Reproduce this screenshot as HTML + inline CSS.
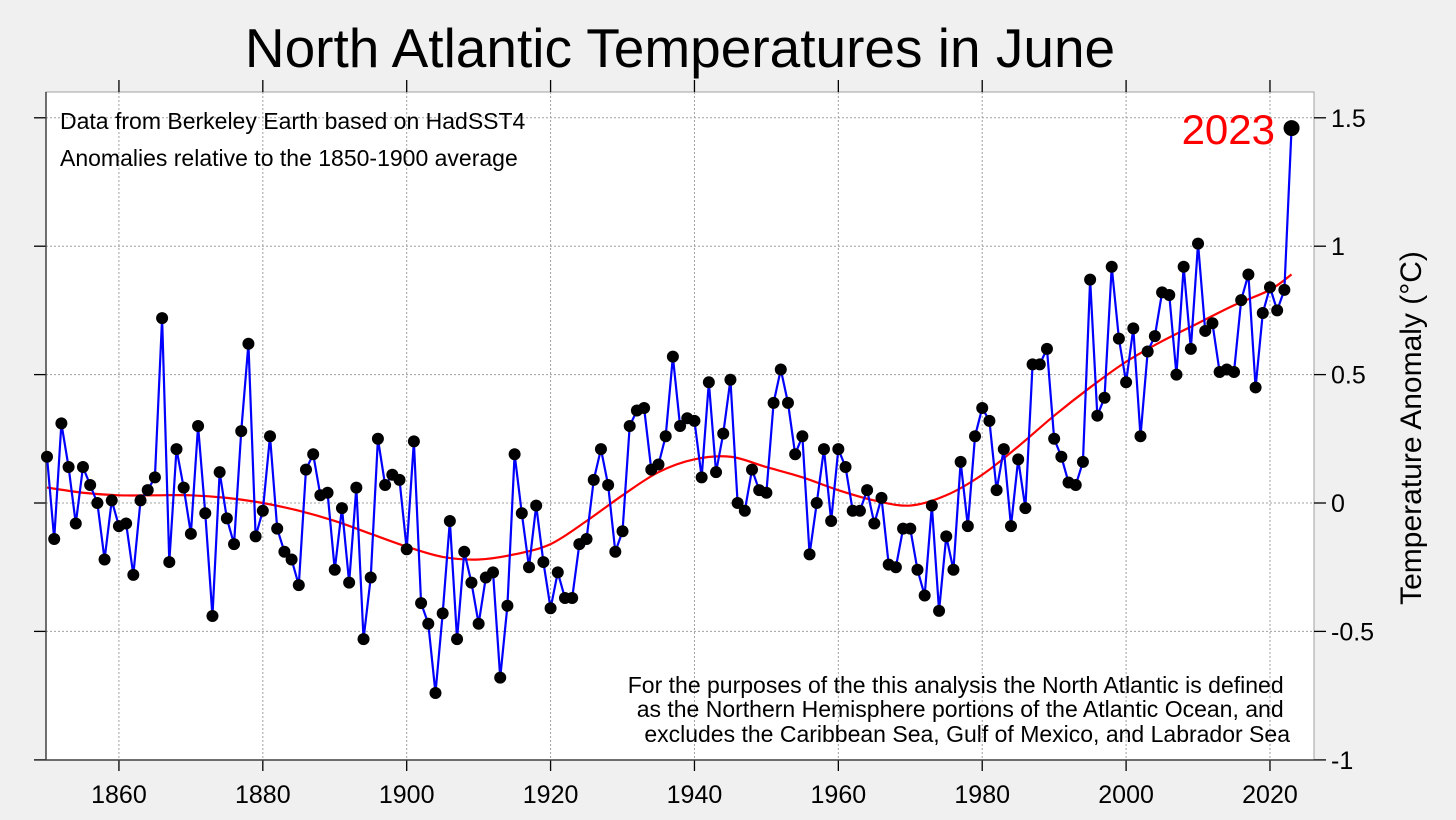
<!DOCTYPE html>
<html><head><meta charset="utf-8"><style>
html,body{margin:0;padding:0;background:#f0f0f0;}
svg{display:block;font-family:"Liberation Sans",Arial,sans-serif;}
</style></head><body>
<svg id="chart" width="1456" height="820" viewBox="0 0 1456 820" xmlns="http://www.w3.org/2000/svg">
<rect x="0" y="0" width="1456" height="820" fill="#f0f0f0"/>
<rect x="46" y="92" width="1268" height="668" fill="#ffffff" stroke="#a0a0a0" stroke-width="1"/>
<g id="grid"></g>
<g id="axes"></g>
<g id="series"></g>
<text x="680" y="67" font-size="55" text-anchor="middle" fill="#000">North Atlantic Temperatures in June</text>
<text x="60" y="129" font-size="23" fill="#000">Data from Berkeley Earth based on HadSST4</text>
<text x="60" y="166" font-size="23" fill="#000">Anomalies relative to the 1850-1900 average</text>
<text font-size="23" fill="#000" text-anchor="end">
<tspan x="1290" y="693">For the purposes of the this analysis the North Atlantic is defined</tspan>
<tspan x="1290" y="717">as the Northern Hemisphere portions of the Atlantic Ocean, and</tspan>
<tspan x="1290" y="742">excludes the Caribbean Sea, Gulf of Mexico, and Labrador Sea</tspan>
</text>
<text x="1275" y="144" font-size="42" fill="#ff0000" text-anchor="end">2023</text>
<text transform="translate(1421,428) rotate(-90)" font-size="30" text-anchor="middle" fill="#000">Temperature Anomaly (°C)</text>
</svg>
<script>
const years = [];
for (let yr = 1850; yr <= 2023; yr++) years.push(yr);
const anomalies = [0.18,-0.14,0.31,0.14,-0.08,0.14,0.07,0.00,-0.22,0.01,
-0.09,-0.08,-0.28,0.01,0.05,0.10,0.72,-0.23,0.21,0.06,
-0.12,0.30,-0.04,-0.44,0.12,-0.06,-0.16,0.28,0.62,-0.13,
-0.03,0.26,-0.10,-0.19,-0.22,-0.32,0.13,0.19,0.03,0.04,
-0.26,-0.02,-0.31,0.06,-0.53,-0.29,0.25,0.07,0.11,0.09,
-0.18,0.24,-0.39,-0.47,-0.74,-0.43,-0.07,-0.53,-0.19,-0.31,
-0.47,-0.29,-0.27,-0.68,-0.40,0.19,-0.04,-0.25,-0.01,-0.23,
-0.41,-0.27,-0.37,-0.37,-0.16,-0.14,0.09,0.21,0.07,-0.19,
-0.11,0.30,0.36,0.37,0.13,0.15,0.26,0.57,0.30,0.33,
0.32,0.10,0.47,0.12,0.27,0.48,0.00,-0.03,0.13,0.05,
0.04,0.39,0.52,0.39,0.19,0.26,-0.20,0.00,0.21,-0.07,
0.21,0.14,-0.03,-0.03,0.05,-0.08,0.02,-0.24,-0.25,-0.10,
-0.10,-0.26,-0.36,-0.01,-0.42,-0.13,-0.26,0.16,-0.09,0.26,
0.37,0.32,0.05,0.21,-0.09,0.17,-0.02,0.54,0.54,0.60,
0.25,0.18,0.08,0.07,0.16,0.87,0.34,0.41,0.92,0.64,
0.47,0.68,0.26,0.59,0.65,0.82,0.81,0.50,0.92,0.60,
1.01,0.67,0.70,0.51,0.52,0.51,0.79,0.89,0.45,0.74,
0.84,0.75,0.83,1.46];
const smoothYears = [1850,1855,1860,1865,1870,1875,1880,1885,1890,1895,1900,1905,1910,1915,1920,1925,1930,1935,1940,1945,1950,1955,1960,1965,1970,1975,1980,1985,1990,1995,2000,2005,2010,2015,2020,2023];
const smoothValues = [0.06,0.04,0.03,0.03,0.03,0.02,0.00,-0.03,-0.07,-0.12,-0.17,-0.21,-0.22,-0.20,-0.16,-0.07,0.03,0.12,0.17,0.18,0.14,0.10,0.05,0.01,-0.01,0.03,0.11,0.22,0.34,0.45,0.55,0.63,0.70,0.77,0.83,0.89];
const xTicks = [1860,1880,1900,1920,1940,1960,1980,2000,2020];
const yTicks = [-1,-0.5,0,0.5,1,1.5];
const yTickLabels = ["-1","-0.5","0","0.5","1","1.5"];

const NS = "http://www.w3.org/2000/svg";
const X0 = 46, X1 = 1314, Y0 = 92, Y1 = 760;
function xs(yr){ return 47 + (yr - 1850) * 7.194; }
function ys(v){ return 503 - v * 256.8; }
function mk(tag, attrs, parent){ const e = document.createElementNS(NS, tag); for (const k in attrs) e.setAttribute(k, attrs[k]); parent.appendChild(e); return e; }
const grid = document.getElementById('grid'), axes = document.getElementById('axes'), series = document.getElementById('series');

xTicks.forEach(t => {
  const x = xs(t);
  const g = mk('line', {x1:x, x2:x, y1:Y0, y2:Y1, stroke:'#a0a0a0', 'stroke-width':1, 'stroke-dasharray':'2,2'}, grid);
  
  
  const tk = mk('line', {x1:x, x2:x, y1:Y1, y2:Y1+11, stroke:'#000', 'stroke-width':1.3}, axes);
  
  
  const tt = mk('line', {x1:x, x2:x, y1:Y0-12, y2:Y0, stroke:'#000', 'stroke-width':1.3}, axes);
  
  
  const lb = mk('text', {x:x, y:803, 'font-size':25, 'text-anchor':'middle', fill:'#000'}, axes);
  lb.textContent = t;
  
  
});
yTicks.forEach((t, i) => {
  const y = ys(t);
  if (t > -1) {
    const g = mk('line', {x1:X0, x2:X1, y1:y, y2:y, stroke:'#a0a0a0', 'stroke-width':1, 'stroke-dasharray':'2,2'}, grid);
    
    
  }
  const tk = mk('line', {x1:X1, x2:X1+12, y1:y, y2:y, stroke:'#000', 'stroke-width':1.3}, axes);
  
  
  const tl = mk('line', {x1:X0-12, x2:X0, y1:y, y2:y, stroke:'#000', 'stroke-width':1.3}, axes);
  
  
  const lb = mk('text', {x:1331, y:y+9, 'font-size':25, fill:'#000'}, axes);
  lb.textContent = yTickLabels[i];
  
  
});
const ax1 = mk('line', {x1:34, x2:1326, y1:Y1, y2:Y1, stroke:'#404040', 'stroke-width':1.5}, axes);


const ax2 = mk('line', {x1:X0, x2:X0, y1:Y0, y2:Y1, stroke:'#404040', 'stroke-width':1.5}, axes);



const sp = smoothYears.map((yr, i) => [xs(yr), ys(smoothValues[i])]);
let d = 'M' + sp[0][0] + ',' + sp[0][1];
for (let i = 0; i < sp.length - 1; i++) {
  const p0 = sp[i-1] || sp[i], p1 = sp[i], p2 = sp[i+1], p3 = sp[i+2] || sp[i+1];
  const c1x = p1[0] + (p2[0]-p0[0])/6, c1y = p1[1] + (p2[1]-p0[1])/6;
  const c2x = p2[0] - (p3[0]-p1[0])/6, c2y = p2[1] - (p3[1]-p1[1])/6;
  d += ' C' + c1x + ',' + c1y + ' ' + c2x + ',' + c2y + ' ' + p2[0] + ',' + p2[1];
}
const trend = mk('path', {d:d, fill:'none', stroke:'#ff0000', 'stroke-width':2.2}, series);



const pts = years.map((yr, i) => xs(yr) + ',' + ys(anomalies[i])).join(' ');
const line = mk('polyline', {points:pts, fill:'none', stroke:'#0000ff', 'stroke-width':2.2}, series);


years.forEach((yr, i) => {
  const last = i === years.length - 1;
  const c = mk('circle', {cx:xs(yr), cy:ys(anomalies[i]), r:last ? 8 : 6, fill:'#000'}, series);
  
  
});
</script>
</body></html>
